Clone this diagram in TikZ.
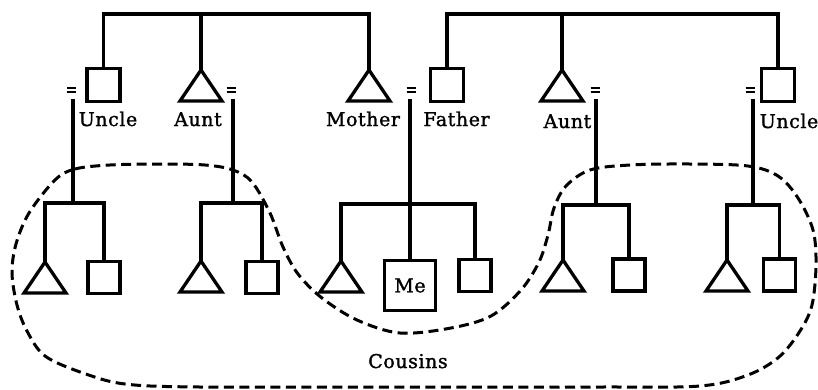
\documentclass[tikz,border=0pt]{standalone}
\usepackage{fontspec}
\setmainfont{DejaVu Serif}[LetterSpace=3,FakeBold=1.4]
\begin{document}
\begin{tikzpicture}[x=1pt,y=-1pt,line width=3.3pt,
  kin/.style={draw,line width=3.3pt,minimum size=33pt,inner sep=0pt},
  lbl/.style={font=\fontsize{19}{21}\selectfont,inner sep=0pt,anchor=base},
  eqbar/.style={line width=2.2pt},
  cousinline/.style={line width=3pt,dash pattern=on 10pt off 5.5pt},
  femtri/.pic={\draw[line join=miter] (0,0) -- (-21,31) -- (21,31) -- cycle;}]
\useasboundingbox (0,0) rectangle (818,389);

% marriage signs
\newcommand\marriage[1]{\draw[eqbar] (#1) ++(-4.5,-2.3) -- ++(9,0) ++(-9,4.6) -- ++(9,0);}

% ---- mother's sibling group ----
\node[kin] (uncL) at (103.5,85) {};
\coordinate (auntL) at (201,70);
\coordinate (mothL) at (369,70);
\pic at (auntL) {femtri};
\pic at (mothL) {femtri};
\coordinate (topL) at (369,14);
\draw (uncL.north) |- (topL) -- (mothL);
\draw (auntL) -- (auntL |- topL);

% ---- father's sibling group ----
\node[kin] (fath) at (447,85) {};
\coordinate (auntR) at (562,70);
\pic at (auntR) {femtri};
\node[kin] (uncR) at (778,85) {};
\coordinate (topR) at (778,14);
\draw (fath.north) |- (topR) -- (uncR.north);
\draw (auntR) -- (auntR |- topR);

% ---- labels ----
\node[lbl] (lUncL) at (108,126) {Uncle};
\node[lbl] (lAuntL) at (198,126) {Aunt};
\node[lbl] (lMoth) at (363,126) {Mother};
\node[lbl] (lFath) at (456.5,126) {Father};
\node[lbl] (lAuntR) at (567.5,128) {Aunt};
\node[lbl] (lUncR) at (789,128) {Uncle};

% ---- marriages ----
\coordinate (eq1) at (71.5,90);
\coordinate (eq2) at (231,90);
\coordinate (eq3) at (411,90);
\coordinate (eq4) at (595,90);
\coordinate (eq5) at (750,90);
\marriage{eq1}\marriage{eq2}\marriage{eq3}\marriage{eq4}\marriage{eq5}

\coordinate (m1) at (73,99);
\coordinate (m2) at (233,99);
\coordinate (m3) at (410,99);
\coordinate (m4) at (596,99);
\coordinate (m5) at (753,99);

\coordinate (b1) at (73,203);
\coordinate (b2) at (233,203);
\coordinate (b3) at (410,204);
\coordinate (b4) at (596,205);
\coordinate (b5) at (753,205);

% ---- children ----
\coordinate (d1) at (45,262);
\node[kin,minimum size=32pt] (s1) at (104,277.5) {};
\coordinate (d2) at (201,261);
\node[kin,minimum size=32pt] (s2) at (262,277.5) {};
\coordinate (d3) at (341,261);
\node[kin,minimum width=51pt,minimum height=50pt,font=\fontsize{19}{21}\selectfont] (me) at (410,285.5) {Me};
\node[kin,minimum size=32pt] (s3) at (475,275.5) {};
\coordinate (d4) at (563,260);
\node[kin,minimum size=32pt] (s4) at (629,275) {};
\coordinate (d5) at (727,260);
\node[kin,minimum size=32pt] (s5) at (779.5,275) {};

\foreach \d in {d1,d2,d3,d4,d5} {\pic at (\d) {femtri};}

\draw (d1) |- (b1) -| (s1.north);
\draw (d2) |- (b2) -| (s2.north);
\draw (d3) |- (b3) -| (s3.north);
\draw (d4) |- (b4) -| (s4.north);
\draw (d5) |- (b5) -| (s5.north);

\draw (m1) -- (b1);
\draw (m2) -- (b2);
\draw (m3) -- (me.north);
\draw (m4) -- (b4);
\draw (m5) -- (b5);

% ---- cousins boundary ----
\draw[cousinline] plot[smooth cycle,tension=0.55] coordinates {
  (55,180) (75,169) (110,165) (160,164) (205,165) (233,170) (252,182)
  (270,213) (283,247) (298,274) (322,298) (357,320) (400,333)
  (451,328) (491,316) (521,290) (539,262) (548,235) (554,208)
  (566,186) (590,170) (630,165) (690,164) (748,166) (778,176)
  (798,198) (813,230) (816,265) (812,305) (800,331) (779,357)
  (748,375) (700,386) (600,387) (400,387) (200,387) (125,384)
  (83,373) (45,356) (27,331) (17,305) (12,273) (16,244) (29,213)};
\node[lbl] (cous) at (408,368) {Cousins};
\end{tikzpicture}
\end{document}
